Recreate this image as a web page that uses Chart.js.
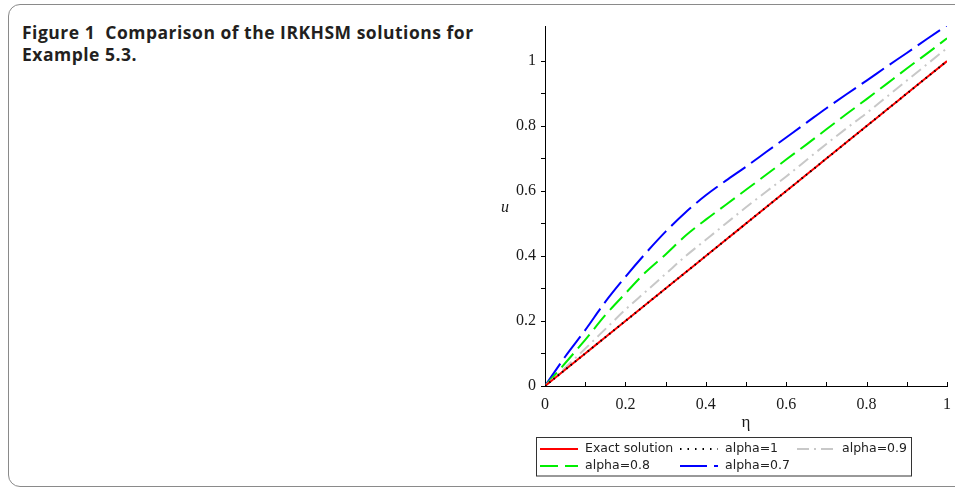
<!DOCTYPE html>
<html><head><meta charset="utf-8">
<script src="https://cdn.jsdelivr.net/npm/chart.js@4.4.0/dist/chart.umd.min.js"></script>
<style>
html,body{margin:0;padding:0;background:#fff;}
#wrap{position:relative;width:955px;height:490px;overflow:hidden;}
#frame{position:absolute;left:8px;top:4px;width:980px;height:483px;border:1.5px solid #8a8a8a;border-radius:12px;box-sizing:border-box;}
#title{position:absolute;left:22px;top:21px;font-family:"Open Sans",Lato,sans-serif;font-weight:bold;font-size:17.5px;letter-spacing:0.5px;line-height:22px;color:#231f20;white-space:nowrap;}
canvas{position:absolute;left:0;top:0;}
</style></head>
<body><div id="wrap"><div id="frame"></div>
<div id="title">Figure 1&nbsp;&nbsp;Comparison of the IRKHSM solutions for<br>Example 5.3.</div>
<canvas id="c" width="975" height="490"></canvas></div>
<script>
// ---- data ----
const eta     = [0,0.05,0.1,0.15,0.2,0.25,0.3,0.35,0.4,0.45,0.5,0.55,0.6,0.65,0.7,0.75,0.8,0.85,0.9,0.95,1];
const exact   = [0,0.05,0.1,0.15,0.2,0.25,0.3,0.35,0.4,0.45,0.5,0.55,0.6,0.65,0.7,0.75,0.8,0.85,0.9,0.95,1];
const alpha1  = [0,0.05,0.1,0.15,0.2,0.25,0.3,0.35,0.4,0.45,0.5,0.55,0.6,0.65,0.7,0.75,0.8,0.85,0.9,0.95,1];
const alpha09 = [0,0.056,0.115,0.175,0.235,0.29,0.345,0.4,0.45,0.5,0.55,0.598,0.645,0.695,0.745,0.793,0.84,0.89,0.94,0.99,1.04];
const alpha08 = [0,0.07,0.142,0.218,0.285,0.35,0.405,0.463,0.512,0.558,0.604,0.65,0.697,0.743,0.79,0.837,0.883,0.93,0.977,1.023,1.07];
const alpha07 = [0,0.09,0.172,0.259,0.336,0.408,0.475,0.535,0.587,0.632,0.675,0.72,0.765,0.81,0.855,0.898,0.94,0.983,1.025,1.068,1.11];
const xTickLabels = ['0','0.2','0.4','0.6','0.8','1'];
const yTickLabels = ['0','0.2','0.4','0.6','0.8','1'];
const legendLabels = ['Exact solution','alpha=1','alpha=0.9','alpha=0.8','alpha=0.7'];

const pts = arr => eta.map((x,i)=>({x:x,y:arr[i]}));
const isMajor = v => Math.abs(v*5 - Math.round(v*5)) < 1e-6;
const fmt = v => (Math.round(v*10)/10).toString();

const datasets = [
  {label:legendLabels[0], data:pts(exact),   borderColor:'#ff0000', borderWidth:2, borderDash:[], order:2},
  {label:legendLabels[1], data:pts(alpha1),  borderColor:'#000000', borderWidth:2, borderDash:[1.5,4], order:1},
  {label:legendLabels[2], data:pts(alpha09), borderColor:'#c8c8c8', borderWidth:2, borderDash:[12,5,2,5], order:3},
  {label:legendLabels[3], data:pts(alpha08), borderColor:'#00ee00', borderWidth:2, borderDash:[18,7], order:4},
  {label:legendLabels[4], data:pts(alpha07), borderColor:'#0000ff', borderWidth:2, borderDash:[27,7], order:5}
];
datasets.forEach(d=>{d.pointRadius=0; d.fill=false; d.cubicInterpolationMode='monotone';});

const SERIF = '"Liberation Serif","DejaVu Serif",serif';

const extras = {
  id:'extras',
  afterDraw(chart){
    const ctx = chart.ctx, xs = chart.scales.x, ys = chart.scales.y;
    ctx.save();
    // inward x tick marks
    ctx.strokeStyle = '#000'; ctx.lineWidth = 1;
    xs.ticks.forEach(t=>{
      if (t.value === 0) return;
      const px = Math.round(xs.getPixelForValue(t.value)) + 0.5;
      ctx.beginPath(); ctx.moveTo(px, ys.bottom); ctx.lineTo(px, ys.bottom - 4); ctx.stroke();
    });
    // axis titles
    ctx.fillStyle = '#1a1a1a';
    ctx.font = '17px ' + SERIF;
    ctx.textAlign = 'center'; ctx.textBaseline = 'middle';
    ctx.fillText('\u03b7', (xs.left + xs.right)/2, 423);
    ctx.font = 'italic 16px ' + SERIF;
    ctx.fillText('u', 505, (ys.top + ys.bottom)/2 + 2);
    // legend
    const bx = 536.5, by = 437.5, bw = 375, bh = 38.5;
    ctx.strokeStyle = '#333'; ctx.lineWidth = 1;
    ctx.strokeRect(bx, by, bw, bh);
    const pos = [[540,449],[680,449],[797,449],[540,466],[680,466]];
    ctx.font = '12.5px "DejaVu Sans",sans-serif';
    ctx.textAlign = 'left'; ctx.textBaseline = 'middle'; ctx.fillStyle = '#222';
    const ds = chart.data.datasets;
    ds.forEach((d,i)=>{
      const [x,y] = pos[i];
      ctx.save();
      ctx.strokeStyle = d.borderColor; ctx.lineWidth = 2;
      ctx.setLineDash(i===1 ? [1.5,6] : d.borderDash);
      ctx.beginPath(); ctx.moveTo(x, y); ctx.lineTo(x + 38, y); ctx.stroke();
      ctx.restore();
      ctx.fillText(d.label, x + 45, y);
    });
    ctx.restore();
  }
};

new Chart(document.getElementById('c'), {
  type:'line',
  data:{datasets:datasets},
  plugins:[extras],
  options:{
    responsive:false, animation:false,
    layout:{padding:{left:500, top:26, right:28, bottom:74}},
    plugins:{legend:{display:false}, tooltip:{enabled:false}},
    scales:{
      x:{type:'linear', min:0, max:1,
        border:{display:true, color:'#000', width:1},
        grid:{display:true, drawOnChartArea:false, drawTicks:false},
        ticks:{stepSize:0.1, padding:9, color:'#1a1a1a', font:{family:SERIF, size:16}, maxRotation:0,
          autoSkip:false,
          callback:(v)=>{ if(!isMajor(v)) return ''; const s=fmt(v); return xTickLabels.includes(s)?s:''; }},
        afterBuildTicks:(s)=>{ s.ticks = s.ticks.filter(t=>Math.abs(t.value*10-Math.round(t.value*10))<1e-6); },
        afterFit:(s)=>{ s.height = 30; }
      },
      y:{type:'linear', min:0, max:1.108,
        border:{display:true, color:'#000', width:1},
        grid:{display:true, drawOnChartArea:false, drawTicks:true, tickLength:4, color:'#000'},
        ticks:{stepSize:0.1, padding:5, color:'#1a1a1a', font:{family:SERIF, size:16}, autoSkip:false,
          callback:(v)=>{ if(!isMajor(v)) return ''; const s=fmt(v); return yTickLabels.includes(s)?s:''; }},
        afterBuildTicks:(s)=>{ s.ticks = s.ticks.filter(t=>Math.abs(t.value*10-Math.round(t.value*10))<1e-6); },
        afterFit:(s)=>{ s.width = 45; }
      }
    }
  }
});
</script>
</body></html>
